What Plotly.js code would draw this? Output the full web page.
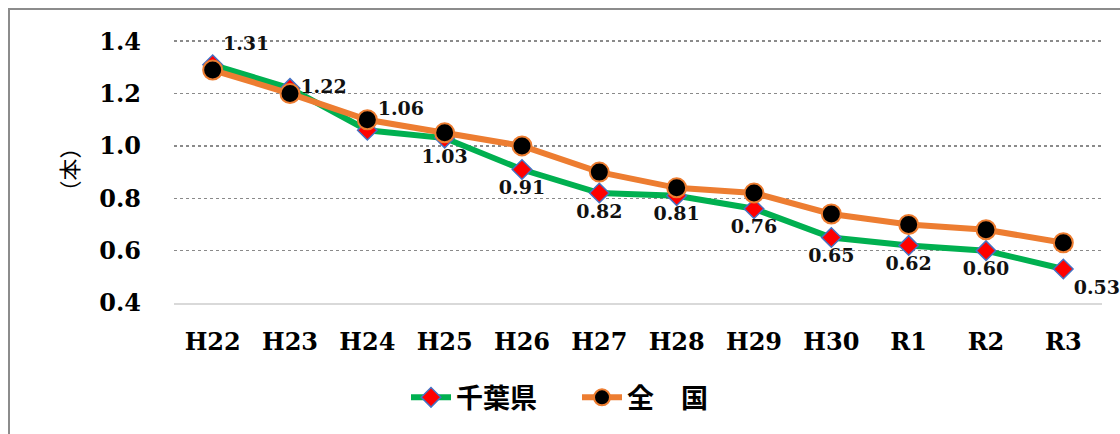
<!DOCTYPE html>
<html><head><meta charset="utf-8">
<script src="https://cdn.plot.ly/plotly-3.0.1.min.js"></script>
<style>
html,body{margin:0;padding:0;background:#fff;}
#wrap{position:relative;width:1120px;height:434px;overflow:hidden;}
#chart{width:1120px;height:434px;}
#frame{position:absolute;left:8px;top:8px;width:1200px;height:500px;border:2px solid #8c8c8c;pointer-events:none;}
</style></head>
<body><div id="wrap"><div id="chart"></div><div id="frame"></div></div>
<script>
const categories = ["H22","H23","H24","H25","H26","H27","H28","H29","H30","R1","R2","R3"];
const chibaValues = [1.31,1.22,1.06,1.03,0.91,0.82,0.81,0.76,0.65,0.62,0.60,0.53];
const nationalValues = [1.29,1.20,1.10,1.05,1.00,0.90,0.84,0.82,0.74,0.70,0.68,0.63];
const chibaLabelPos = ["top right","middle right","top right","bottom center","bottom center","bottom center","bottom center","bottom center","bottom center","bottom center","bottom center","bottom right"];
const yTicks = [0.4,0.6,0.8,1.0,1.2,1.4];

const serif = "DejaVu Serif, Liberation Serif, serif";
const cjk = "Noto Sans CJK JP, sans-serif";

const chiba = {
  x: categories, y: chibaValues, name: "千葉県", type: "scatter", mode: "lines+markers+text",
  line: {color: "#00B050", width: 6},
  marker: {symbol: "diamond", size: 15, color: "#FF0000", line: {color: "#4472C4", width: 1.5}},
  text: chibaValues.map(v => v.toFixed(2)), textposition: chibaLabelPos,
  textfont: {family: serif, size: 19, color: "#111", weight: "bold"},
  cliponaxis: false
};
const national = {
  x: categories, y: nationalValues, name: "全　国", type: "scatter", mode: "lines+markers",
  line: {color: "#ED7D31", width: 6},
  marker: {symbol: "circle", size: 19, color: "#000000", line: {color: "#ED7D31", width: 2}},
  cliponaxis: false
};

const layout = {
  width: 1120, height: 434,
  margin: {l: 174, r: 18, t: 36, b: 131},
  paper_bgcolor: "#fff", plot_bgcolor: "#fff",
  showlegend: true,
  legend: {orientation: "h", x: 0.25, xanchor: "left", y: -0.355, yanchor: "middle",
           font: {family: cjk, size: 27, color: "#000", weight: "bold"}, itemwidth: 40,
           entrywidth: 116, entrywidthmode: "pixels",
           tracegroupgap: 0, traceorder: "normal"},
  xaxis: {type: "category", range: [-0.5, 11.5], showgrid: false, zeroline: false,
          showline: true, linecolor: "#d9d9d9", linewidth: 2, ticks: "",
          tickfont: {family: serif, size: 24, color: "#000", weight: "bold"}, ticklabelstandoff: 16},
  yaxis: {range: [0.4, 1.42], tickvals: yTicks, tickformat: ".1f", showgrid: true,
          gridcolor: "#8a8a8a", griddash: "dot", gridwidth: 1.5, zeroline: false,
          showline: false, ticks: "", ticklabelstandoff: 32,
          tickfont: {family: serif, size: 24, color: "#000", weight: "bold"},
          title: {text: "（本）", font: {family: cjk, size: 22, color: "#000"}, standoff: 14}}
};

Plotly.newPlot("chart", [chiba, national], layout, {displayModeBar: false, staticPlot: true});
</script></body></html>
